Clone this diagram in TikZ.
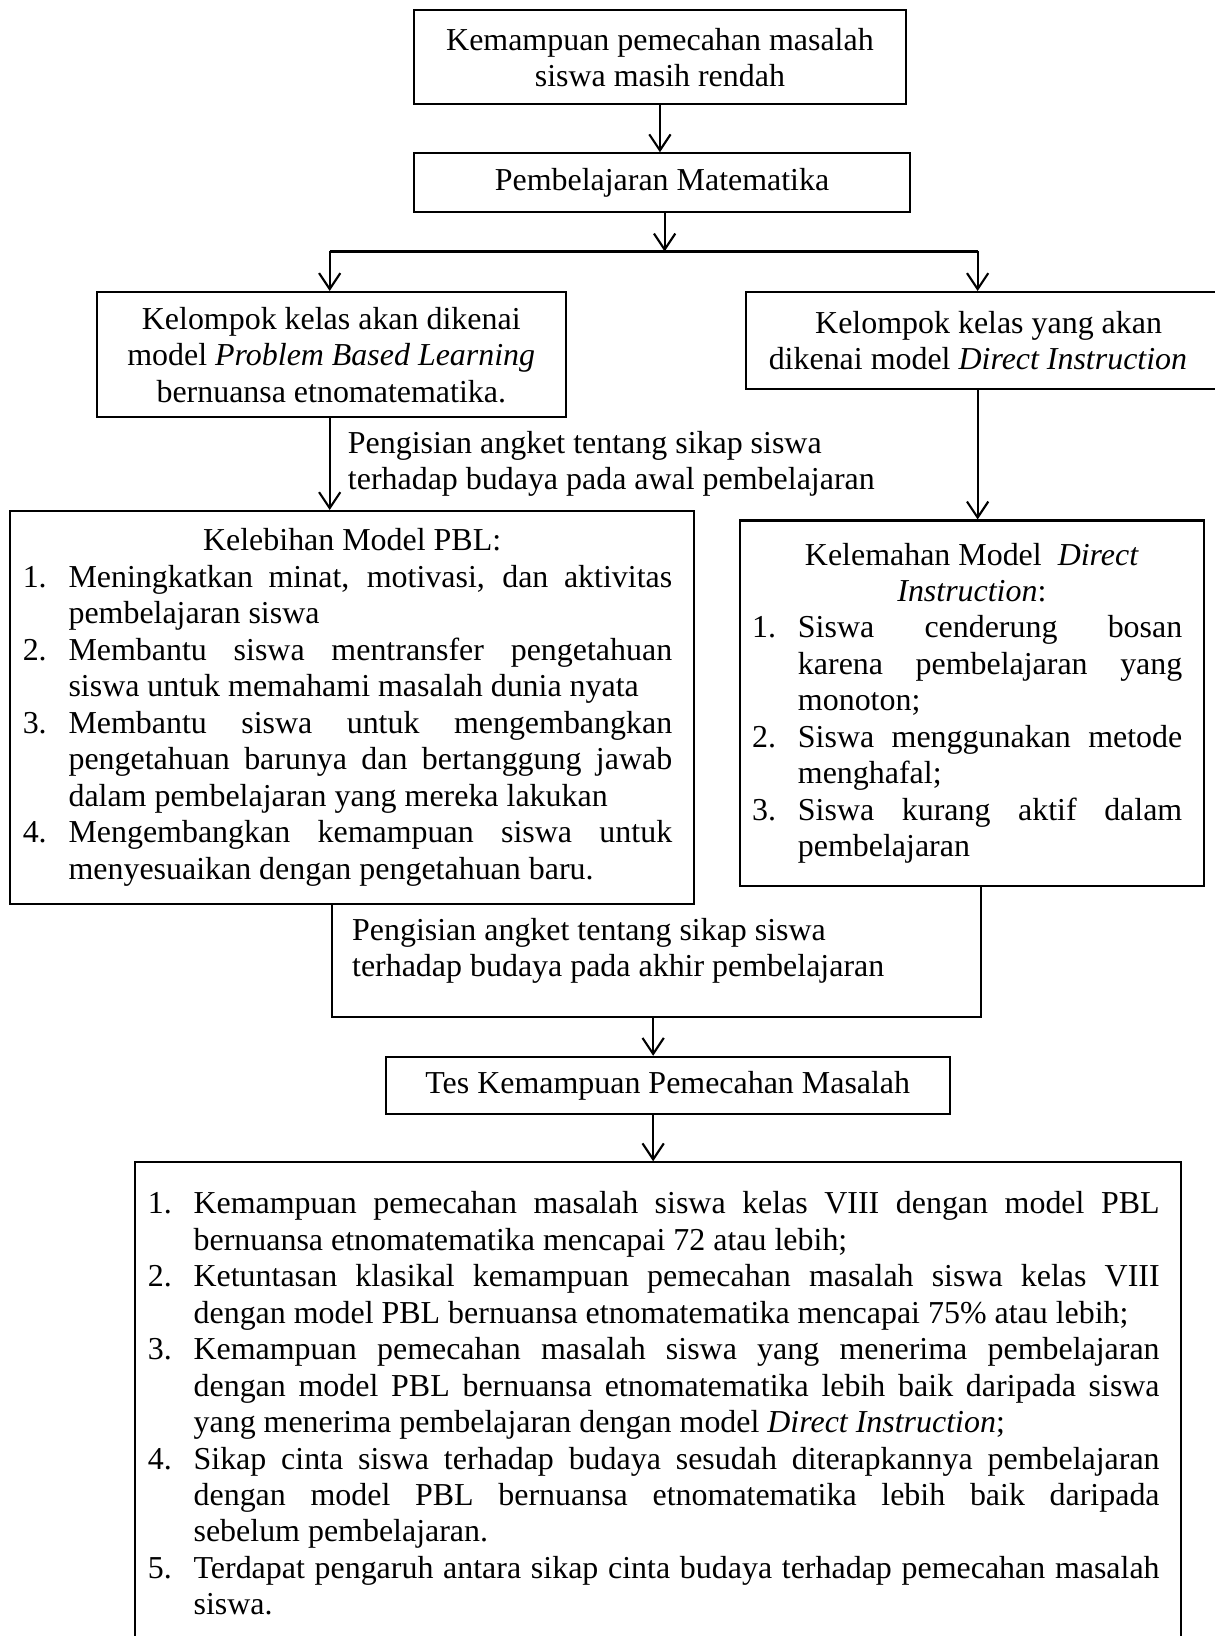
\documentclass[tikz,border=0pt]{standalone}
\usepackage{fontspec}
\setmainfont{Liberation Serif}
\usetikzlibrary{arrows.meta, positioning}
\newcommand{\teks}{\fontsize{12pt}{13.7pt}\selectfont}
\newcommand{\butir}[2]{\noindent\rightskip=3.5pt\relax\hangindent=17.2pt\hangafter=1
  \makebox[17.2pt][l]{#1}#2\par}
\tolerance=10000 \hbadness=10000 \hyphenpenalty=10000

\begin{document}
\begin{tikzpicture}[x=1.3777cm, y=1.3777cm,
  kotak/.style={rectangle, draw, line width=0.8pt, inner sep=2pt,
                align=center, font=\teks},
  daftar/.style={rectangle, draw, line width=0.8pt, inner xsep=4.7pt,
                 align=justify, font=\teks},
  ket/.style={inner sep=0pt, align=left, font=\teks, anchor=west},
  garis/.style={line width=0.8pt},
  arr/.style={garis, -{Straight Barb[length=6pt, width=8pt]}},
]
\useasboundingbox (0,0) rectangle (11.64,-15.68);

% Bagian atas
\node[kotak, minimum width=184.7pt, minimum height=35.3pt] at (6.325,-0.55) (masalah)
  {Kemampuan pemecahan masalah\\ siswa masih rendah};
\node[kotak, minimum width=186.3pt, minimum height=22pt] at (6.345,-1.75) (pembelajaran)
  {Pembelajaran Matematika};

% Dua kelompok kelas
\node[kotak, minimum width=176.1pt, minimum height=47.1pt] at (3.175,-3.40) (pbl)
  {Kelompok kelas akan dikenai\\ model \textit{Problem Based Learning}\\ bernuansa etnomatematika.};
\node[kotak, minimum width=182.4pt, minimum height=36.5pt] at (9.475,-3.265) (di)
  {Kelompok kelas yang akan\\ dikenai model \textit{Direct Instruction}\hspace*{8pt}};

% Kelebihan dan kelemahan
\node[daftar, text width=247.5pt, minimum height=147.5pt] at (3.375,-6.78) (kelebihan) {%
  {\centering Kelebihan Model PBL:\par}%
  \butir{1.}{Meningkatkan minat, motivasi, dan aktivitas \linebreak pembelajaran siswa}%
  \butir{2.}{Membantu siswa mentransfer pengetahuan \linebreak siswa untuk memahami masalah dunia nyata}%
  \butir{3.}{Membantu siswa untuk mengembangkan \linebreak pengetahuan barunya dan bertanggung jawab \linebreak dalam pembelajaran yang mereka lakukan}%
  \butir{4.}{Mengembangkan kemampuan siswa untuk \linebreak menyesuaikan dengan pengetahuan baru.}%
  \vspace*{-4pt}};
\node[daftar, text width=165.1pt, minimum height=137.3pt] at (9.315,-6.74) (kelemahan) {%
  {\centering Kelemahan Model\ \ \textit{Direct}\\ \textit{Instruction}:\par}%
  \butir{1.}{Siswa cenderung bosan \linebreak karena pembelajaran yang \linebreak monoton;}%
  \butir{2.}{Siswa menggunakan metode \linebreak menghafal;}%
  \butir{3.}{Siswa kurang aktif dalam \linebreak pembelajaran}};

% Tes dan hasil
\node[kotak, minimum width=211.8pt, minimum height=21.6pt] at (6.40,-10.405) (tes)
  {Tes Kemampuan Pemecahan Masalah};
\node[daftar, text width=383.6pt, inner ysep=11pt, anchor=north] at (6.31,-11.13) (hasil) {%
  \butir{1.}{Kemampuan pemecahan masalah siswa kelas VIII dengan model PBL \linebreak bernuansa etnomatematika mencapai 72 atau lebih;}%
  \butir{2.}{Ketuntasan klasikal kemampuan pemecahan masalah siswa kelas VIII \linebreak dengan model PBL bernuansa etnomatematika mencapai 75\% atau lebih;}%
  \butir{3.}{Kemampuan pemecahan masalah siswa yang menerima pembelajaran \linebreak dengan model PBL bernuansa etnomatematika lebih baik daripada siswa \linebreak yang menerima pembelajaran dengan model \textit{Direct Instruction};}%
  \butir{4.}{Sikap cinta siswa terhadap budaya sesudah diterapkannya pembelajaran \linebreak dengan model PBL bernuansa etnomatematika lebih baik daripada \linebreak sebelum pembelajaran.}%
  \butir{5.}{Terdapat pengaruh antara sikap cinta budaya terhadap pemecahan masalah \linebreak siswa.}%
  \vspace*{8pt}};

% Keterangan angket
\node[ket] at (3.33,-4.445) (angketawal)
  {Pengisian angket tentang sikap siswa\\ terhadap budaya pada awal pembelajaran};
\node[ket] at (3.37,-9.115) (angketakhir)
  {Pengisian angket tentang sikap siswa\\ terhadap budaya pada akhir pembelajaran};

% Titik cabang dan gabung
\coordinate (cabang) at (6.37,-2.41);
\coordinate (cabangkiri) at (3.16,-2.41);
\coordinate (cabangkanan) at (9.37,-2.41);
\coordinate (gabungkiri) at (3.18,-9.75);
\coordinate (gabungkanan) at (9.40,-9.75);
\coordinate (gabung) at (6.26,-9.75);

% Panah atas
\draw[arr] (masalah.south) -- (masalah.south |- pembelajaran.north);
\draw[arr] (pembelajaran.south -| cabang) -- (cabang);
\draw[garis] (cabangkiri) -- (cabangkanan);
\draw[arr] (cabangkiri) -- (cabangkiri |- pbl.north);
\draw[arr] (cabangkanan) -- (cabangkanan |- di.north);

% Panah ke kelebihan / kelemahan
\draw[arr] (cabangkiri |- pbl.south) -- (cabangkiri |- kelebihan.north);
\draw[arr] (cabangkanan |- di.south) -- (cabangkanan |- kelemahan.north);

% Gabung ke tes
\draw[garis] (gabungkiri |- kelebihan.south) -- (gabungkiri) -- (gabungkanan)
  -- (gabungkanan |- kelemahan.south);
\draw[arr] (gabung) -- (gabung |- tes.north);
\draw[arr] (gabung |- tes.south) -- (gabung |- hasil.north);

\end{tikzpicture}
\end{document}
